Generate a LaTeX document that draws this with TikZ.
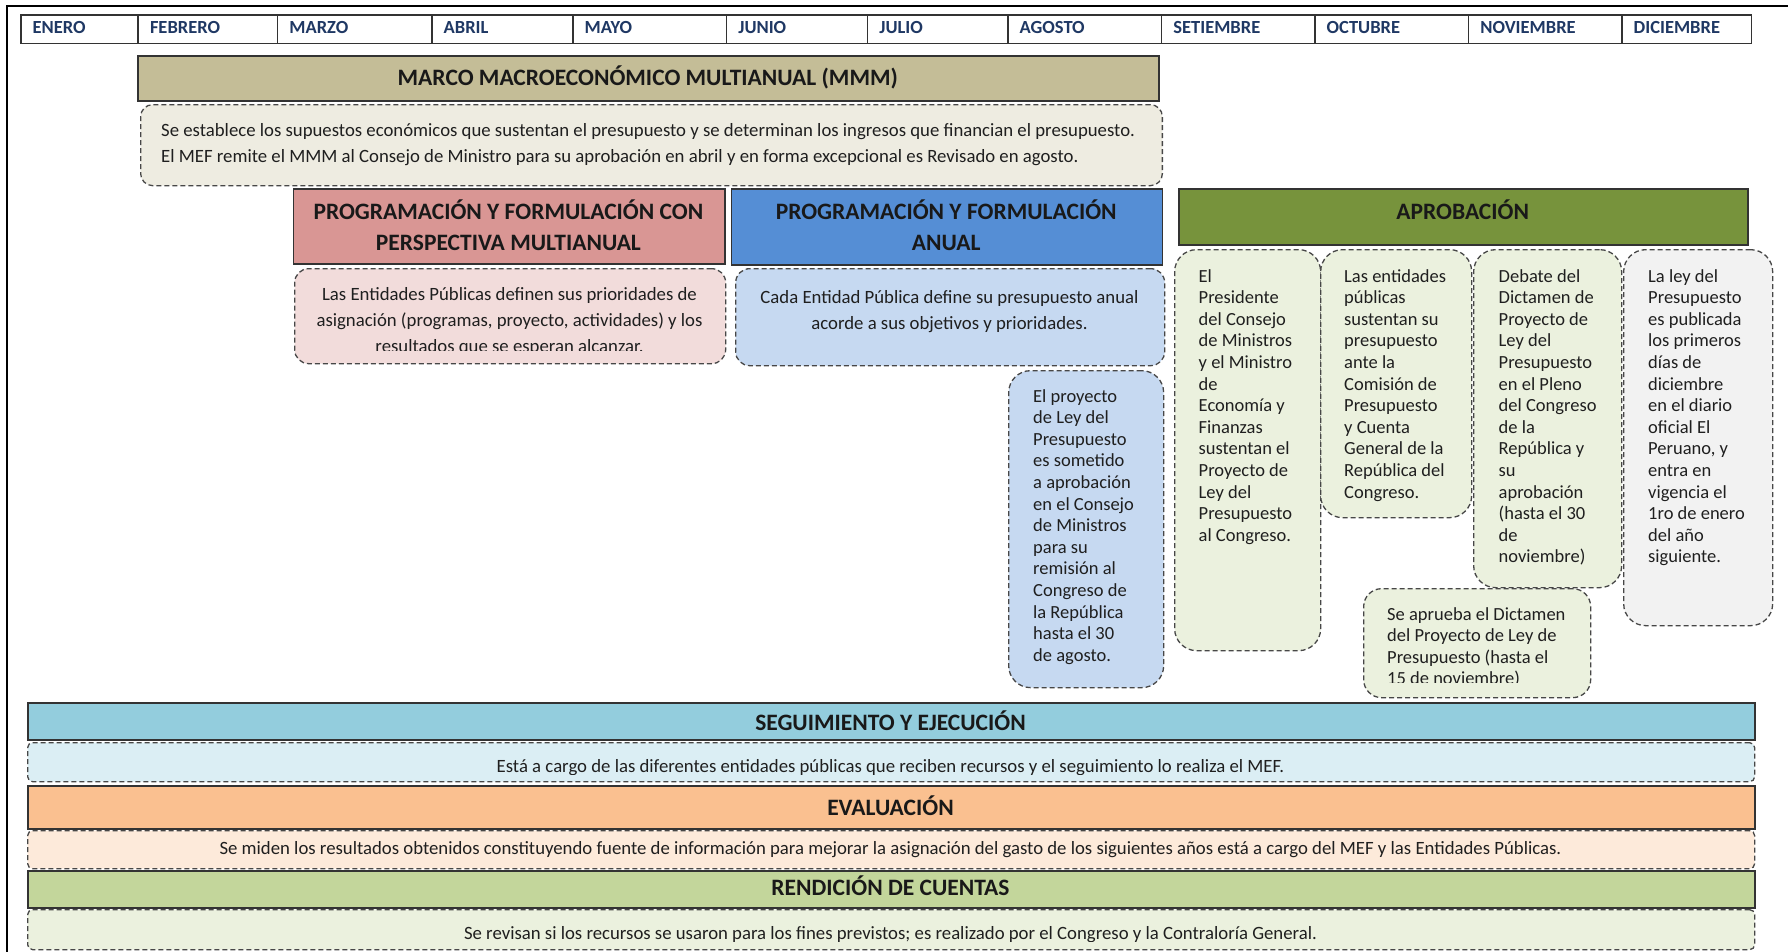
\documentclass[tikz,border=0pt]{standalone}
\usepackage{fontspec}
\setmainfont{Carlito}
\definecolor{mmmH}{HTML}{C4BD97}
\definecolor{mmmD}{HTML}{EEECE1}
\definecolor{pinkH}{HTML}{D99694}
\definecolor{pinkD}{HTML}{F2DCDB}
\definecolor{blueH}{HTML}{558ED5}
\definecolor{blueD}{HTML}{C6D9F1}
\definecolor{greenH}{HTML}{77933C}
\definecolor{greenD}{HTML}{EBF1DE}
\definecolor{greyD}{HTML}{F2F2F2}
\definecolor{segH}{HTML}{93CDDD}
\definecolor{segD}{HTML}{DBEEF4}
\definecolor{evaH}{HTML}{FAC090}
\definecolor{evaD}{HTML}{FDEADA}
\definecolor{renH}{HTML}{C3D69B}
\definecolor{renD}{HTML}{EBF1DE}
\definecolor{monblue}{HTML}{1F3864}
\newcommand{\myL}[2]{\parbox[t]{#1}{\raggedright #2}}
\newcommand{\myC}[2]{\parbox[t]{#1}{\centering #2}}
\begin{document}
\begin{tikzpicture}[x=1pt,y=-1pt,
 frame/.style={line width=2.2pt, draw=black},
 cell/.style={draw=black!80, line width=1.5pt, inner sep=0, anchor=north west, minimum height=28.7pt},
 hdr/.style={draw=black!80, line width=1.5pt, inner sep=0, anchor=north west},
 dbox/.style={draw=black!72, line width=1.3pt, dash pattern=on 5pt off 3pt, inner sep=0, anchor=north west},
 ttl/.style={font=\fontsize{23.5}{31}\selectfont\bfseries, text=black!90, inner sep=0, anchor=base},
 mon/.style={font=\fontsize{18.5}{22}\selectfont\bfseries, text=monblue, inner sep=0, anchor=base west},
 bodyL/.style={font=\fontsize{18.5}{21.6}\selectfont, text=black!88, inner sep=0, anchor=base west},
 bodyW/.style={font=\fontsize{18.75}{26}\selectfont, text=black!88, inner sep=0},
]
\path[use as bounding box] (0,0) rectangle (1788,951);
\fill[white] (0,0) rectangle (1788,951);
\draw[frame] (7,960) -- (7,5.7) -- (1795,5.7);

% month row
\foreach \a/\b/\m [count=\i] in {20/137.3/ENERO,137.3/276.7/FEBRERO,276.7/431/MARZO,431/572/ABRIL,572/725.7/MAYO,725.7/866.7/JUNIO,866.7/1007/JULIO,1007/1160.7/AGOSTO,1160.7/1314/SETIEMBRE,1314/1467.7/OCTUBRE,1467.7/1621/NOVIEMBRE,1621/1750.7/DICIEMBRE}{
  \node[cell, minimum width={\b-\a}] (cell\i) at (\a,14) {};
  \node[mon] (mon\i) at (\a+12.5,33) {\m};
}

% MMM
\node[hdr, fill=mmmH, minimum width=1021pt, minimum height=45pt] (mmmH) at (137.3,55) {};
\node[ttl] (mmmT) at (647.8,85.5) {MARCO MACROECONÓMICO MULTIANUAL (MMM)};
\node[dbox, fill=mmmD, rounded corners=12pt, minimum width=1021.7pt, minimum height=81pt] (mmmD) at (140,104) {};
\node[bodyW, anchor=base west] (mmmTxt) at (161,136) {\myL{1000pt}{Se establece los supuestos económicos que sustentan el presupuesto y se determinan los ingresos que financian el presupuesto.\\El MEF remite el MMM al Consejo de Ministro para su aprobación en abril y en forma excepcional es Revisado en agosto.}};

% Programacion headers
\node[hdr, fill=pinkH, minimum width=431.3pt, minimum height=75pt] (pinkH) at (292.7,188) {};
\node[ttl] (pinkT) at (508.4,219) {\myC{428pt}{PROGRAMACIÓN Y FORMULACIÓN CON\\PERSPECTIVA MULTIANUAL}};
\node[hdr, fill=blueH, minimum width=431pt, minimum height=76pt] (blueH) at (730.7,188) {};
\node[ttl] (blueT) at (946.2,219) {\myC{428pt}{PROGRAMACIÓN Y FORMULACIÓN\\ANUAL}};
\node[hdr, fill=greenH, minimum width=568.7pt, minimum height=56pt] (greenH) at (1178.3,188) {};
\node[ttl] (greenT) at (1462.7,219) {APROBACIÓN};

% Programacion descriptions
\node[dbox, fill=pinkD, rounded corners=14pt, minimum width=431pt, minimum height=95pt] (pinkD) at (294,268) {};
\begin{scope}
\clip (294,268) rectangle (725,350);
\node[bodyW, anchor=base] (pinkTxt) at (509.5,300) {\myC{428pt}{Las Entidades Públicas definen sus prioridades de\\asignación (programas, proyecto, actividades) y los\\resultados que se esperan alcanzar.}};
\end{scope}
\node[dbox, fill=blueD, rounded corners=14pt, minimum width=429pt, minimum height=97pt] (blueD) at (735,268) {};
\node[bodyW, anchor=base] (blueTxt) at (949.5,303) {\myC{428pt}{Cada Entidad Pública define su presupuesto anual\\acorde a sus objetivos y prioridades.}};

% Box F
\node[dbox, fill=blueD, rounded corners=22pt, minimum width=155pt, minimum height=317pt] (boxF) at (1008,370) {};
\node[bodyL] (boxFTxt) at (1033,402) {\myL{200pt}{El proyecto\\de Ley del\\Presupuesto\\es sometido\\a aprobación\\en el Consejo\\de Ministros\\para su\\remisión al\\Congreso de\\la República\\hasta el 30\\de agosto.}};

% Aprobacion boxes
\node[dbox, fill=greenD, rounded corners=22pt, minimum width=146pt, minimum height=401pt] (boxA) at (1174,249) {};
\node[bodyL] (boxATxt) at (1198.5,282) {\myL{200pt}{El\\Presidente\\del Consejo\\de Ministros\\y el Ministro\\de\\Economía y\\Finanzas\\sustentan el\\Proyecto de\\Ley del\\Presupuesto\\al Congreso.}};
\node[dbox, fill=greenD, rounded corners=22pt, minimum width=151pt, minimum height=268pt] (boxB) at (1320,249) {};
\node[bodyL] (boxBTxt) at (1344,282) {\myL{200pt}{Las entidades\\públicas\\sustentan su\\presupuesto\\ante la\\Comisión de\\Presupuesto\\y Cuenta\\General de la\\República del\\Congreso.}};
\node[dbox, fill=greenD, rounded corners=22pt, minimum width=148pt, minimum height=338pt] (boxC) at (1473,249) {};
\node[bodyL] (boxCTxt) at (1498.5,282) {\myL{200pt}{Debate del\\Dictamen de\\Proyecto de\\Ley del\\Presupuesto\\en el Pleno\\del Congreso\\de la\\República y\\su\\aprobación\\(hasta el 30\\de\\noviembre)}};
\node[dbox, fill=greyD, rounded corners=22pt, minimum width=149pt, minimum height=376pt] (boxD) at (1623,249) {};
\node[bodyL] (boxDTxt) at (1648,282) {\myL{200pt}{La ley del\\Presupuesto\\es publicada\\los primeros\\días de\\diciembre\\en el diario\\oficial El\\Peruano, y\\entra en\\vigencia el\\1ro de enero\\del año\\siguiente.}};
\node[dbox, fill=greenD, rounded corners=18pt, minimum width=227pt, minimum height=109pt] (boxE) at (1363,588) {};
\begin{scope}
\clip (1363,588) rectangle (1590,682);
\node[bodyL] (boxETxt) at (1387,620) {\myL{220pt}{Se aprueba el Dictamen\\del Proyecto de Ley de\\Presupuesto (hasta el\\15 de noviembre)}};
\end{scope}

% bottom strips
\node[hdr, fill=segH, minimum width=1727pt, minimum height=37pt] (segH) at (27,702) {};
\node[ttl] (segT) at (890.5,730) {SEGUIMIENTO Y EJECUCIÓN};
\node[dbox, fill=segD, rounded corners=5pt, minimum width=1727pt, minimum height=39pt] (segD) at (27,742) {};
\begin{scope}
\clip (27,742) rectangle (1754,774);
\node[bodyW, anchor=base] (segTxt) at (890.5,772) {Está a cargo de las diferentes entidades públicas que reciben recursos y el seguimiento lo realiza el MEF.};
\end{scope}

\node[hdr, fill=evaH, minimum width=1727pt, minimum height=43pt] (evaH) at (27,785) {};
\node[ttl] (evaT) at (890.5,815) {EVALUACIÓN};
\node[dbox, fill=evaD, rounded corners=5pt, minimum width=1727pt, minimum height=38pt] (evaD) at (27,830) {};
\node[bodyW, anchor=base] (evaTxt) at (890.5,854.5) {Se miden los resultados obtenidos constituyendo fuente de información para mejorar la asignación del gasto de los siguientes años está a cargo del MEF y las Entidades Públicas.};

\node[hdr, fill=renH, minimum width=1727pt, minimum height=37pt] (renH) at (27,870) {};
\node[ttl] (renT) at (890.5,895.5) {RENDICIÓN DE CUENTAS};
\node[dbox, fill=renD, rounded corners=5pt, minimum width=1727pt, minimum height=40pt] (renD) at (27,909) {};
\begin{scope}
\clip (27,909) rectangle (1754,941);
\node[bodyW, anchor=base] (renTxt) at (890.5,939.5) {Se revisan si los recursos se usaron para los fines previstos; es realizado por el Congreso y la Contraloría General.};
\end{scope}
\end{tikzpicture}
\end{document}
